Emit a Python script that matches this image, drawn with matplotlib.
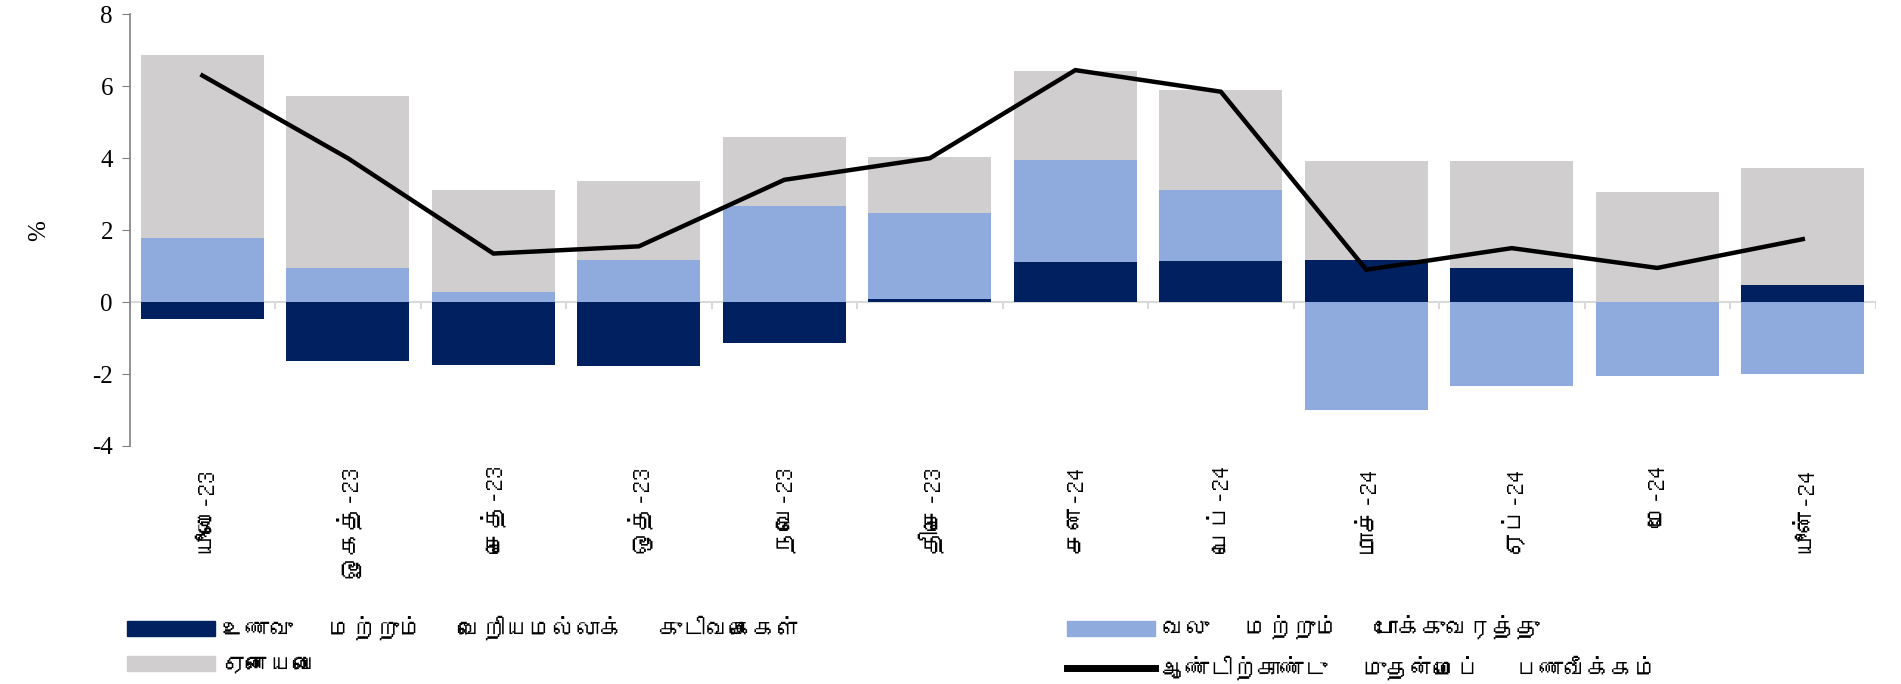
import numpy as np
import matplotlib
matplotlib.use("Agg")
import matplotlib.pyplot as plt
from matplotlib import font_manager, ft2font
from matplotlib.patches import Patch
from matplotlib.lines import Line2D

months = ["யூலை-23", "ஓகத்-23", "செத்-23", "ஒத்-23", "நவெ-23", "திசெ-23",
          "சன-24", "பெப்-24", "மாச்-24", "ஏப்-24", "மே-24", "யூன்-24"]
food = [-0.48, -1.65, -1.75, -1.78, -1.14, 0.08, 1.11, 1.14, 1.18, 0.94, 0.0, 0.47]
energy = [1.78, 0.94, 0.27, 1.18, 2.66, 2.41, 2.83, 1.99, -3.0, -2.32, -2.05, -1.99]
others = [5.09, 4.78, 2.86, 2.19, 1.92, 1.55, 2.49, 2.76, 2.73, 2.97, 3.06, 3.27]
headline = [6.3, 4.0, 1.35, 1.55, 3.4, 4.0, 6.45, 5.85, 0.9, 1.5, 0.95, 1.75]

labels = ["உணவு   மற்றும்   வெறியமல்லாக்   குடிவகைகள்",
          "வலு   மற்றும்   போக்குவரத்து",
          "ஏனையவை",
          "ஆண்டிற்காண்டு   முதன்மைப்   பணவீக்கம்"]
colors = ["#002060", "#8FAADC", "#D0CECE"]


def tamil_family():
    # look for any installed font that covers Tamil
    for f in font_manager.fontManager.ttflist:
        try:
            if 0x0BAE in ft2font.FT2Font(f.fname).get_charmap():
                return f.name
        except Exception:
            pass
    return None


plt.rcParams["axes.unicode_minus"] = False
tam = tamil_family()
text_fam = [tam, "DejaVu Sans"] if tam else ["DejaVu Sans"]
num_fam = ["Liberation Serif"]

fig = plt.figure(figsize=(19.01, 6.84), dpi=100)
ax = fig.add_axes([0.0682, 0.348, 0.9184, 0.631])

x = np.arange(len(months))
pos = np.zeros(len(months))
neg = np.zeros(len(months))
for vals, c in zip([food, energy, others], colors):
    v = np.array(vals)
    bottom = np.where(v >= 0, pos, neg)
    ax.bar(x, v, bottom=bottom, width=0.845, color=c, zorder=2)
    pos = pos + np.clip(v, 0, None)
    neg = neg + np.clip(v, None, 0)

ax.plot(x, headline, color="black", lw=3.2, zorder=3, solid_joinstyle="miter")

ax.set_xlim(-0.5, len(months) - 0.5)
ax.set_ylim(-4, 8)
ax.set_yticks(range(-4, 9, 2))
ax.tick_params(axis="y", direction="out", length=6, color="#808080",
               labelsize=18, pad=6)
for t in ax.get_yticklabels():
    t.set_family(num_fam)

# zero line acting as category axis, with boundary ticks
ax.axhline(0, color="#D9D9D9", lw=1.5, zorder=1)
ax.vlines(np.arange(len(months) + 1) - 0.5, -0.2, 0, color="#D9D9D9",
          lw=1.5, zorder=1)

ax.set_xticks(x)
ax.set_xticklabels(months, rotation=90, fontsize=18, family=text_fam,
                   va="top", ha="center")
ax.tick_params(axis="x", length=0, pad=14)

for s in ["top", "right", "bottom"]:
    ax.spines[s].set_visible(False)
ax.spines["left"].set_color("#808080")
ax.spines["left"].set_linewidth(1.2)

ax.set_ylabel("%", fontsize=18, family=num_fam, labelpad=30)

h = [Patch(color=colors[0]), Patch(color=colors[2]),
     Patch(color=colors[1]), Line2D([], [], color="black", lw=5)]
leg_kw = dict(frameon=False, handlelength=3.7, handleheight=0.6,
              handletextpad=0.3, labelspacing=0.65, borderaxespad=0,
              prop={"family": text_fam, "size": 17})
fig.legend(h[:2], [labels[0], labels[2]], loc="upper left",
           bbox_to_anchor=(0.062, 0.114), **leg_kw)
fig.legend(h[2:], [labels[1], labels[3]], loc="upper left",
           bbox_to_anchor=(0.5565, 0.114), **leg_kw)

fig.savefig("out.png", dpi=100)
